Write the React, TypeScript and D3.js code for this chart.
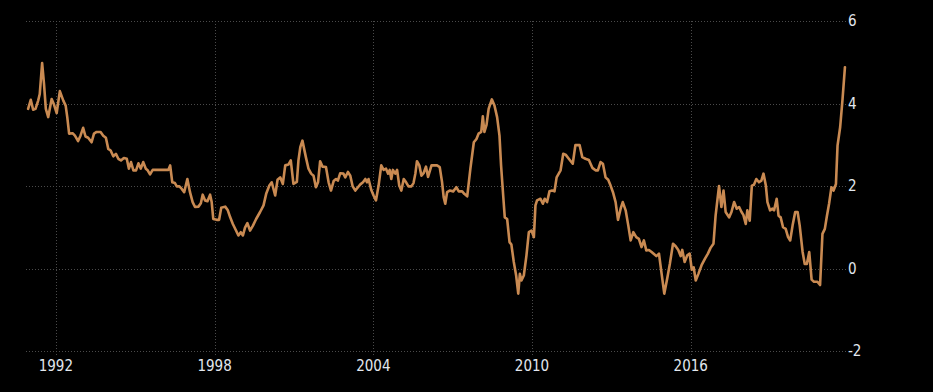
import React from 'react';
import * as d3 from 'd3';

const years = [
  1990.95, 1991.05, 1991.14, 1991.23, 1991.33, 1991.39, 1991.48, 1991.55, 1991.62, 1991.71,
  1991.84, 1991.92, 1992.03, 1992.15, 1992.28, 1992.37, 1992.43, 1992.50, 1992.63, 1992.72,
  1992.84, 1992.93, 1993.03, 1993.12, 1993.22, 1993.35, 1993.44, 1993.54, 1993.69, 1993.79,
  1993.89, 1993.98, 1994.07, 1994.17, 1994.27, 1994.36, 1994.46, 1994.57, 1994.68, 1994.76,
  1994.84, 1994.93, 1995.03, 1995.12, 1995.21, 1995.30, 1995.40, 1995.47, 1995.56, 1995.66,
  1996.13, 1996.25, 1996.32, 1996.40, 1996.50, 1996.57, 1996.67, 1996.76, 1996.85, 1996.97,
  1997.07, 1997.17, 1997.26, 1997.39, 1997.48, 1997.55, 1997.64, 1997.73, 1997.83, 1997.89,
  1997.95, 1998.08, 1998.17, 1998.25, 1998.40, 1998.50, 1998.59, 1998.69, 1998.81, 1998.90,
  1998.99, 1999.07, 1999.15, 1999.24, 1999.34, 1999.45, 1999.57, 1999.72, 1999.85, 1999.95,
  2000.07, 2000.16, 2000.29, 2000.38, 2000.48, 2000.58, 2000.67, 2000.79, 2000.88, 2000.98,
  2001.11, 2001.17, 2001.24, 2001.32, 2001.45, 2001.55, 2001.65, 2001.74, 2001.83, 2001.91,
  2001.99, 2002.08, 2002.21, 2002.31, 2002.40, 2002.50, 2002.59, 2002.66, 2002.75, 2002.87,
  2002.94, 2003.04, 2003.13, 2003.22, 2003.32, 2003.42, 2003.51, 2003.61, 2003.70, 2003.76,
  2003.82, 2003.92, 2004.01, 2004.10, 2004.20, 2004.30, 2004.39, 2004.48, 2004.56, 2004.62,
  2004.68, 2004.74, 2004.83, 2004.90, 2004.98, 2005.06, 2005.15, 2005.24, 2005.33, 2005.44,
  2005.52, 2005.59, 2005.65, 2005.74, 2005.82, 2005.90, 2005.99, 2006.07, 2006.20, 2006.28,
  2006.41, 2006.51, 2006.60, 2006.66, 2006.72, 2006.79, 2006.89, 2007.02, 2007.14, 2007.23,
  2007.36, 2007.44, 2007.55, 2007.67, 2007.80, 2007.90, 2007.98, 2008.08, 2008.14, 2008.20,
  2008.28, 2008.36, 2008.48, 2008.58, 2008.68, 2008.77, 2008.83, 2008.91, 2008.97, 2009.06,
  2009.15, 2009.22, 2009.31, 2009.40, 2009.48, 2009.54, 2009.60, 2009.69, 2009.79, 2009.88,
  2009.98, 2010.07, 2010.13, 2010.19, 2010.32, 2010.41, 2010.48, 2010.57, 2010.66, 2010.76,
  2010.85, 2010.93, 2011.01, 2011.08, 2011.18, 2011.27, 2011.39, 2011.54, 2011.64, 2011.80,
  2011.90, 2012.02, 2012.15, 2012.28, 2012.40, 2012.49, 2012.59, 2012.68, 2012.78, 2012.88,
  2012.97, 2013.06, 2013.16, 2013.25, 2013.35, 2013.43, 2013.54, 2013.64, 2013.73, 2013.83,
  2013.94, 2014.04, 2014.14, 2014.23, 2014.32, 2014.42, 2014.52, 2014.61, 2014.70, 2014.80,
  2014.90, 2015.00, 2015.12, 2015.21, 2015.33, 2015.43, 2015.53, 2015.62, 2015.68, 2015.77,
  2015.87, 2015.96, 2016.04, 2016.11, 2016.19, 2016.29, 2016.41, 2016.54, 2016.65, 2016.75,
  2016.86, 2016.94, 2017.07, 2017.16, 2017.24, 2017.32, 2017.45, 2017.54, 2017.64, 2017.74,
  2017.83, 2017.92, 2017.99, 2018.08, 2018.14, 2018.23, 2018.31, 2018.39, 2018.48, 2018.58,
  2018.67, 2018.75, 2018.84, 2018.90, 2019.00, 2019.09, 2019.15, 2019.25, 2019.32, 2019.40,
  2019.49, 2019.59, 2019.68, 2019.76, 2019.85, 2019.95, 2020.04, 2020.12, 2020.23, 2020.31,
  2020.39, 2020.48, 2020.57, 2020.66, 2020.79, 2020.89, 2020.98, 2021.07, 2021.15, 2021.23,
  2021.32, 2021.40, 2021.49, 2021.55, 2021.65, 2021.74, 2021.83,
];

const values = [
  3.87, 4.09, 3.85, 3.87, 4.07, 4.23, 4.98, 4.48, 3.87, 3.67,
  4.11, 3.99, 3.77, 4.30, 4.07, 3.95, 3.67, 3.27, 3.28, 3.22,
  3.09, 3.22, 3.41, 3.20, 3.17, 3.06, 3.27, 3.31, 3.31, 3.22,
  3.17, 2.90, 2.86, 2.72, 2.78, 2.66, 2.62, 2.68, 2.66, 2.42,
  2.58, 2.38, 2.38, 2.55, 2.42, 2.58, 2.42, 2.38, 2.28, 2.39,
  2.39, 2.39, 2.50, 2.09, 2.07, 1.99, 1.99, 1.93, 1.85, 2.17,
  1.85, 1.61, 1.49, 1.50, 1.58, 1.79, 1.65, 1.63, 1.79, 1.61,
  1.20, 1.18, 1.18, 1.47, 1.50, 1.41, 1.24, 1.08, 0.92, 0.80,
  0.88, 0.80, 0.99, 1.10, 0.92, 1.04, 1.20, 1.37, 1.53, 1.81,
  2.01, 2.09, 1.77, 2.15, 2.21, 2.05, 2.50, 2.52, 2.62, 2.05,
  2.10, 2.62, 2.94, 3.10, 2.70, 2.42, 2.30, 2.25, 1.97, 2.09,
  2.60, 2.47, 2.46, 2.09, 1.89, 2.12, 2.17, 2.13, 2.31, 2.30,
  2.21, 2.34, 2.25, 1.99, 1.89, 1.97, 2.04, 2.09, 2.17, 2.09,
  2.17, 1.91, 1.77, 1.65, 2.01, 2.50, 2.39, 2.42, 2.30, 2.39,
  2.17, 2.39, 2.30, 2.39, 2.01, 1.89, 2.17, 2.09, 1.99, 1.99,
  2.07, 2.30, 2.60, 2.50, 2.25, 2.31, 2.47, 2.22, 2.50, 2.50,
  2.50, 2.46, 2.09, 1.73, 1.57, 1.85, 1.89, 1.87, 1.97, 1.87,
  1.87, 1.81, 1.75, 2.42, 3.06, 3.14, 3.27, 3.31, 3.69, 3.31,
  3.48, 3.87, 4.10, 3.95, 3.67, 3.22, 2.50, 1.77, 1.24, 1.20,
  0.64, 0.58, 0.16, -0.17, -0.61, -0.13, -0.29, -0.17, 0.32, 0.88,
  0.92, 0.76, 1.53, 1.65, 1.69, 1.57, 1.69, 1.61, 1.87, 1.89,
  1.87, 2.21, 2.30, 2.38, 2.78, 2.76, 2.66, 2.54, 2.99, 2.99,
  2.70, 2.66, 2.63, 2.44, 2.38, 2.38, 2.58, 2.54, 2.21, 2.15,
  2.01, 1.85, 1.61, 1.18, 1.45, 1.61, 1.41, 1.04, 0.68, 0.88,
  0.76, 0.72, 0.52, 0.68, 0.44, 0.45, 0.40, 0.35, 0.30, 0.36,
  -0.13, -0.61, -0.21, 0.11, 0.60, 0.54, 0.45, 0.30, 0.45, 0.16,
  0.32, 0.36, -0.03, 0.03, -0.29, -0.13, 0.08, 0.24, 0.36, 0.50,
  0.60, 1.28, 2.00, 1.49, 1.89, 1.37, 1.24, 1.37, 1.61, 1.45,
  1.49, 1.37, 1.30, 1.08, 1.41, 1.16, 2.01, 2.03, 2.17, 2.09,
  2.13, 2.30, 2.01, 1.61, 1.41, 1.45, 1.41, 1.69, 1.28, 1.24,
  1.00, 0.96, 0.76, 0.68, 1.04, 1.37, 1.37, 1.04, 0.40, 0.11,
  0.11, 0.40, -0.27, -0.32, -0.32, -0.40, 0.84, 0.96, 1.28, 1.57,
  1.97, 1.89, 2.05, 2.98, 3.43, 4.11, 4.88,
];

const xTickYears = [1992, 1998, 2004, 2010, 2016];
const yTicks = [-2, 0, 2, 4, 6];

export default function App() {
  const W = 933;
  const H = 392;
  const left = 26;
  const right = 846;
  const top = 21;
  const bottom = 351;

  const x = d3.scaleLinear().domain([1990.87, 2021.87]).range([left, right]);
  const y = d3.scaleLinear().domain([-2, 6]).range([bottom, top]);

  const data: [number, number][] = years.map((t, i) => [t, values[i]]);
  const line = d3
    .line<[number, number]>()
    .x((d) => x(d[0]))
    .y((d) => y(d[1]));

  const font = "'Liberation Sans Narrow', 'DejaVu Sans Condensed', 'Liberation Sans', sans-serif";
  const textColor = '#e2e7ee';
  const gridColor = '#4a4a4a';

  return (
    <svg
      width={W}
      height={H}
      style={{ position: 'absolute', left: 0, top: 0, display: 'block', background: '#000' }}
    >
      <rect x={0} y={0} width={W} height={H} fill="#000" />
      {yTicks.map((v) => (
        <line
          key={'h' + v}
          x1={left}
          x2={right}
          y1={Math.round(y(v)) + 0.5}
          y2={Math.round(y(v)) + 0.5}
          stroke={gridColor}
          strokeWidth={1}
          strokeDasharray="1,2"
        />
      ))}
      {xTickYears.map((t) => (
        <line
          key={'v' + t}
          x1={Math.round(x(t)) + 0.5}
          x2={Math.round(x(t)) + 0.5}
          y1={top}
          y2={bottom + 5}
          stroke={gridColor}
          strokeWidth={1}
          strokeDasharray="1,2"
        />
      ))}
      <path
        d={line(data) || ''}
        fill="none"
        stroke="#c98a52"
        strokeWidth={2.6}
        strokeLinejoin="round"
        strokeLinecap="round"
      />
      {yTicks.map((v) => (
        <text
          key={'yl' + v}
          x={848}
          y={y(v) + 5}
          fill={textColor}
          fontFamily={font}
          fontSize={15}
          fontWeight={500}
        >
          {v}
        </text>
      ))}
      {xTickYears.map((t) => (
        <text
          key={'xl' + t}
          x={x(t)}
          y={371}
          fill={textColor}
          fontFamily={font}
          fontSize={15}
          fontWeight={500}
          textAnchor="middle"
        >
          {t}
        </text>
      ))}
    </svg>
  );
}
